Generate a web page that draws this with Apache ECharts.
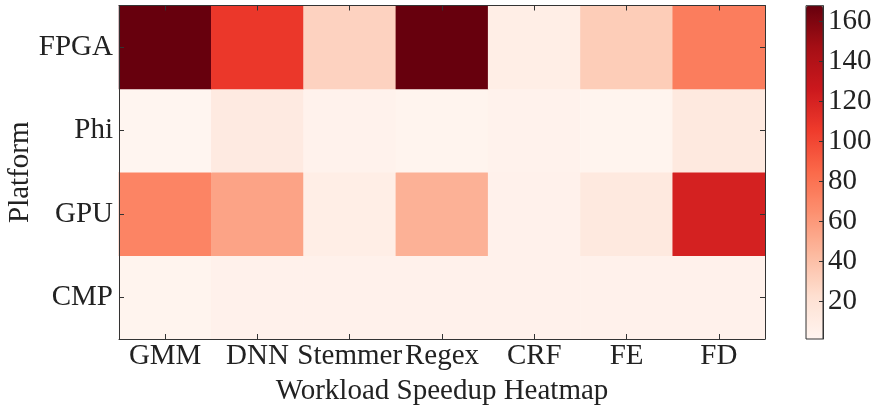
<!DOCTYPE html>
<html>
<head>
<meta charset="utf-8">
<script src="https://cdn.jsdelivr.net/npm/echarts@6/dist/echarts.min.js"></script>
<style>
  html, body { margin: 0; padding: 0; background: #fff; }
  #heat { width: 875px; height: 408px; }
</style>
</head>
<body>
<div id="heat"></div>
<script>
// workloads along x, platforms along y (bottom to top)
var workloads = ['GMM', 'DNN', 'Stemmer', 'Regex', 'CRF', 'FE', 'FD'];
var platforms = ['CMP', 'GPU', 'Phi', 'FPGA'];

var cmpSpeedup = [2.5, 5, 5, 5, 5, 5, 5];
var gpuSpeedup = [71, 55, 8, 48, 5, 13, 121];
var phiSpeedup = [1.5, 12, 4, 2.5, 4, 2.5, 13];
var fpgaSpeedup = [168, 108, 30, 168, 8, 33, 75];

var colorTicks = [20, 40, 60, 80, 100, 120, 140, 160];
var minVal = 1.3, maxVal = 168;

// matplotlib "Reds"
var reds = ['#fff5f0', '#fee0d2', '#fcbba1', '#fc9272', '#fb6a4a', '#ef3b2c', '#cb181d', '#a50f15', '#67000d'];

var rows = [cmpSpeedup, gpuSpeedup, phiSpeedup, fpgaSpeedup];
var data = [];
rows.forEach(function (row, y) {
  row.forEach(function (v, x) {
    data.push([x, y, v]);
  });
});

var font = 'Liberation Serif';
var ink = '#222';
var fs = 29;
var line = { show: true, lineStyle: { color: '#333', width: 1 } };
var tick = { show: true, inside: true, length: 5, alignWithLabel: true, lineStyle: { color: '#333' } };

var myChart = echarts.init(document.getElementById('heat'));
var option = {
  animation: false,
  textStyle: { fontFamily: font },
  grid: [
    { left: 119, top: 5.5, width: 646, height: 333.5, outerBoundsMode: 'none' },
    { left: 806, top: 5.7, width: 17, height: 333.3, outerBoundsMode: 'none', show: true, borderColor: '#333', borderWidth: 1, backgroundColor: 'transparent', z: 10 }
  ],
  xAxis: [
    {
      type: 'category', data: workloads, gridIndex: 0, position: 'bottom', z: 10,
      axisLine: line, axisTick: tick, splitLine: { show: false },
      axisLabel: { fontFamily: font, fontSize: fs, color: ink, margin: 3, interval: 0, hideOverlap: false },
      name: 'Workload Speedup Heatmap', nameLocation: 'middle', nameGap: 38, nameMoveOverlap: false,
      nameTextStyle: { fontFamily: font, fontSize: fs, color: ink }
    },
    {
      type: 'category', data: workloads, gridIndex: 0, position: 'top', z: 10,
      axisLine: line, axisTick: tick, axisLabel: { show: false }
    },
    {
      type: 'category', data: [''], gridIndex: 1, show: false
    }
  ],
  yAxis: [
    {
      type: 'category', data: platforms, gridIndex: 0, position: 'left', z: 10,
      axisLine: line, axisTick: tick, splitLine: { show: false },
      axisLabel: { fontFamily: font, fontSize: fs, color: ink, margin: 6, interval: 0 },
      name: 'Platform', nameLocation: 'middle', nameGap: 84, nameRotate: 90, nameMoveOverlap: false,
      nameTextStyle: { fontFamily: font, fontSize: fs, color: ink }
    },
    {
      type: 'category', data: platforms, gridIndex: 0, position: 'right', z: 10,
      axisLine: line, axisTick: tick, axisLabel: { show: false }
    },
    {
      type: 'value', gridIndex: 1, position: 'right', min: minVal, max: maxVal, z: 10,
      splitLine: { show: false },
      axisLine: line,
      axisTick: { show: true, inside: true, length: 4, lineStyle: { color: '#333' }, customValues: colorTicks },
      axisLabel: { fontFamily: font, fontSize: fs, color: ink, margin: 5, customValues: colorTicks }
    }
  ],
  visualMap: {
    type: 'continuous', min: minVal, max: maxVal, calculable: false,
    seriesIndex: 0, orient: 'vertical', left: 806, top: 5.7, padding: 0,
    itemWidth: 17, itemHeight: 333.3, text: null, showLabel: false,
    inRange: { color: reds }
  },
  series: [
    {
      type: 'heatmap', xAxisIndex: 0, yAxisIndex: 0, data: data,
      itemStyle: { borderWidth: 0 },
      emphasis: { disabled: true }
    }
  ]
};
option && myChart.setOption(option);
</script>
</body>
</html>
